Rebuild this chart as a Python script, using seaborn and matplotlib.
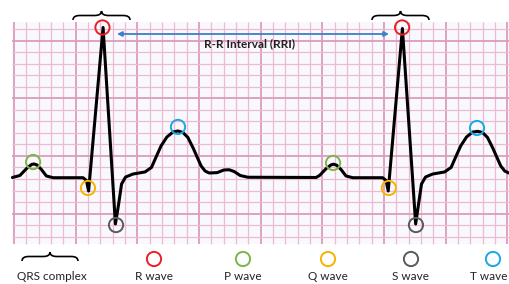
"""ECG diagram: two beats on ECG paper with P/Q/R/S/T wave markers."""

import matplotlib
matplotlib.use("Agg")
import matplotlib.pyplot as plt
import numpy as np
import seaborn as sns
from matplotlib.path import Path
from matplotlib.patches import PathPatch, Rectangle
from matplotlib.transforms import Affine2D

# ---------------------------------------------------------------------------
# Data (time in s, amplitude in mV, 25 mm/s & 10 mm/mV paper)
# ---------------------------------------------------------------------------
time_s = [
    -0.005, 0.019, 0.041, 0.057, 0.065, 0.075, 0.089, 0.105, 0.127, 0.224,
    0.235, 0.242, 0.289, 0.329, 0.339, 0.349, 0.362, 0.386, 0.425, 0.446,
    0.461, 0.477, 0.496, 0.516, 0.532, 0.548, 0.564, 0.581, 0.594, 0.607,
    0.620, 0.633, 0.659, 0.681, 0.698, 0.714, 0.734, 0.759, 0.980,
    0.991, 1.013, 1.029, 1.037, 1.047, 1.061, 1.077, 1.099, 1.196, 1.207,
    1.214, 1.260, 1.303, 1.312, 1.322, 1.335, 1.358, 1.397, 1.418, 1.433,
    1.449, 1.468, 1.488, 1.504, 1.520, 1.536, 1.553, 1.566, 1.579, 1.592,
    1.605,
]
ecg_mv = [
    0.000, 0.017, 0.078, 0.113, 0.117, 0.108, 0.069, 0.013, -0.002, -0.002,
    -0.026, -0.117, 1.300, -0.403, -0.238, -0.056, 0.004, 0.030, 0.048, 0.087,
    0.178, 0.273, 0.351, 0.394, 0.403, 0.390, 0.347, 0.256, 0.178, 0.100,
    0.056, 0.039, 0.042, 0.065, 0.067, 0.052, 0.017, 0.002, 0.000,
    0.017, 0.078, 0.110, 0.115, 0.106, 0.069, 0.013, -0.002, -0.002, -0.026,
    -0.117, 1.291, -0.403, -0.238, -0.056, 0.004, 0.030, 0.048, 0.087, 0.178,
    0.273, 0.351, 0.394, 0.400, 0.390, 0.347, 0.256, 0.178, 0.100, 0.056,
    0.039,
]

# wave markers: (name, times, amplitudes)
wave_names = ["R wave", "P wave", "Q wave", "S wave", "T wave"]
wave_t = {
    "R wave": [0.287, 1.259],
    "P wave": [0.062, 1.035],
    "Q wave": [0.240, 1.216],
    "S wave": [0.331, 1.304],
    "T wave": [0.532, 1.502],
}
wave_v = {
    "R wave": [1.300, 1.300],
    "P wave": [0.134, 0.126],
    "Q wave": [-0.091, -0.091],
    "S wave": [-0.412, -0.412],
    "T wave": [0.438, 0.429],
}
wave_colors = {
    "R wave": "#e8202a",
    "P wave": "#7db54a",
    "Q wave": "#f5b400",
    "S wave": "#5a5a5a",
    "T wave": "#19a8e6",
}
rri_label = "R-R Interval (RRI)"
qrs_label = "QRS complex"

# ---------------------------------------------------------------------------
# Layout
# ---------------------------------------------------------------------------
W, H = 509, 284
sns.set_style("white")
plt.rcParams["font.family"] = ["Lato", "DejaVu Sans"]

fig = plt.figure(figsize=(W / 100, H / 100), dpi=100)
ax = fig.add_axes([0, 0, 1, 1])
ax.set_xlim(-0.0454, 1.6058)
ax.set_ylim(-0.923, 1.538)
ax.axis("off")

# pixel coordinates for annotations (origin top-left)
pix = Affine2D().scale(1 / W, -1 / H).translate(0, 1) + fig.transFigure

# ECG paper
paper_t0, paper_t1 = -0.0065, 1.62
paper_v0, paper_v1 = -0.576, 1.348
ax.add_patch(Rectangle((paper_t0, paper_v0), paper_t1 - paper_t0,
                       paper_v1 - paper_v0, facecolor="#f9f8fc",
                       edgecolor="none", zorder=0))
minor_c, major_c = "#ebbad3", "#dc9cbf"
for k in range(41):
    major = k % 5 == 0
    ax.vlines(0.04 * k, paper_v0, paper_v1,
              color=major_c if major else minor_c,
              lw=1.3 if major else 0.9, zorder=1)
for k in range(19):
    major = k % 5 == 2
    ax.hlines(-0.513 + 0.1 * k, paper_t0, paper_t1,
              color=major_c if major else minor_c,
              lw=1.3 if major else 0.9, zorder=1)

# trace
sns.lineplot(x=time_s, y=ecg_mv, ax=ax, color="black", lw=2.2,
             sort=False, estimator=None, zorder=3)

# wave circles on the trace
for name in wave_names:
    ax.scatter(wave_t[name], wave_v[name], s=105, facecolors="none",
               edgecolors=wave_colors[name], linewidths=1.4, zorder=4)

# R-R interval arrow + label
ax.annotate("", xy=(117, 34), xytext=(389, 34), xycoords=pix, textcoords=pix,
            arrowprops=dict(arrowstyle="<|-|>", color="#3d7fcc", lw=1.3,
                            mutation_scale=7, shrinkA=0, shrinkB=0))
ax.text(250, 44, rri_label, transform=pix, ha="center", va="center",
        fontsize=8.5, fontweight="bold", color="#222222")


def brace(x0, x1, y_tip, y_end):
    """Curly brace, tip pointing up, in pixel coordinates."""
    xm = (x0 + x1) / 2
    ym = (y_tip + y_end) / 2
    r = (x1 - x0) * 0.12
    verts = [(x0, y_end), (x0, ym), (x0 + r, ym), (xm - r, ym),
             (xm, ym), (xm, y_tip),
             (xm, ym), (xm + r, ym), (x1 - r, ym),
             (x1, ym), (x1, y_end)]
    codes = [Path.MOVETO, Path.CURVE3, Path.CURVE3, Path.LINETO,
             Path.CURVE3, Path.CURVE3,
             Path.CURVE3, Path.CURVE3, Path.LINETO,
             Path.CURVE3, Path.CURVE3]
    ax.add_patch(PathPatch(Path(verts, codes), transform=pix, fill=False,
                           edgecolor="black", lw=1.2, zorder=5))


brace(73, 130, 11, 20)
brace(372, 429, 11, 20)

# bottom key
brace(22, 78, 252, 261)
ax.text(52, 277, qrs_label, transform=pix, ha="center", va="center",
        fontsize=8.5, color="#222222")
key_x = [154, 243, 328, 411, 493]
text_x = [154, 243, 328, 411, 489]
for name, x, tx in zip(wave_names, key_x, text_x):
    ax.scatter([x], [259], s=105, facecolors="none",
               edgecolors=wave_colors[name], linewidths=1.4, transform=pix,
               clip_on=False, zorder=5)
    ax.text(tx, 277, name, transform=pix, ha="center", va="center",
            fontsize=8.5, color="#222222", clip_on=False)

fig.savefig("out.png", dpi=100, facecolor="white")
plt.close(fig)
